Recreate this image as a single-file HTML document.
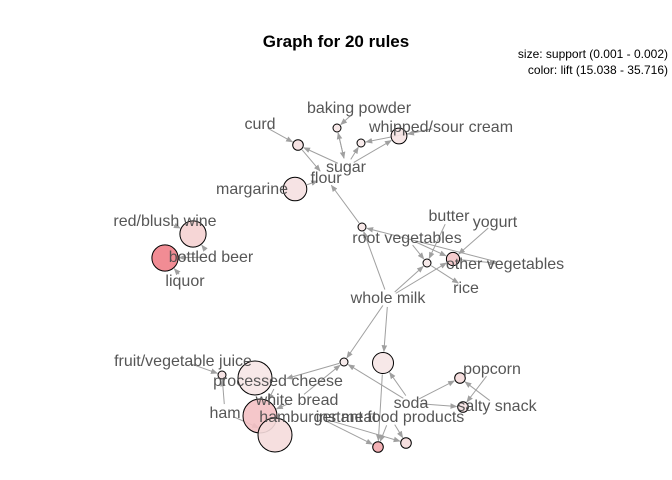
<!DOCTYPE html>
<html><head><meta charset="utf-8"><style>
body{margin:0;background:#fff;}
svg{display:block;font-family:"Liberation Sans",sans-serif;}
</style></head><body>
<svg id="chart" width="672" height="480">
<defs><marker id="ah" viewBox="0 0 10 10" refX="9" refY="5" markerWidth="7" markerHeight="7" orient="auto"><path d="M0,1 L10,5 L0,9 z" fill="#a0a0a0"/></marker></defs>
<text x="336" y="47" text-anchor="middle" font-size="17" font-weight="bold" fill="#000">Graph for 20 rules</text>
<text x="668" y="58" text-anchor="end" font-size="12" fill="#000">size: support (0.001 - 0.002)</text>
<text x="668" y="74" text-anchor="end" font-size="12" fill="#000">color: lift (15.038 - 35.716)</text>
<g id="edges"></g><g id="rules"></g><g id="labels"></g>
</svg>
<script>
const itemNames = ["curd","baking powder","whipped/sour cream","sugar","flour","margarine","butter","yogurt","root vegetables","other vegetables","rice","whole milk","red/blush wine","bottled beer","liquor","fruit/vegetable juice","processed cheese","white bread","ham","soda","hamburger meat","instant food products","popcorn","salty snack"];
const itemX = [260,359,441,346,326,252,449,495,407,505,466,388,165,211,185,183,278,297,225,411,318,390,492,497];
const itemY = [129,113,132,172,183,194,221,227,243,269,293,303,226,262,286,366,386,405,418,408,422,422,374,411];
const ruleX = [298,337,361,399,295,362,427,453,193,165,344,383,222,255,260,275,460,463,378,406];
const ruleY = [145,128,143,136,189,227,263,259,234,258,362,363,375,378,416,435,378,407,447,443];
const ruleSupport = [0.0011,0.001,0.001,0.0013,0.0016,0.001,0.001,0.0012,0.0017,0.0017,0.001,0.0015,0.001,0.002,0.002,0.002,0.0011,0.0011,0.0011,0.0011];
const ruleLift = [17,16,15.5,16.5,17,16,15.5,22,20,35.7,15.2,16,17,16,23,18,18,17,28,18];
const edgeFrom = ["i0","r0","i3","i3","r1","i1","i2","i3","i3","i2","r5","i11","r4","i9","i6","i8","i8","i7","i11","i11","r6","r7","i11","i11","r10","i17","i19","r11","i19","i15","i18","i19","i19","i22","i23","i20","i21","i21","i20","i12","i13","i14","i13","i16","i17","i18","i16"];
const edgeTo   = ["r0","i4","r0","r1","i3","r1","r2","r2","r3","r3","i4","r5","i4","r5","r6","r6","r7","r7","r6","r7","i10","i9","r10","r11","i16","r10","r10","r18","r11","r12","r12","r16","r17","r17","r16","r18","r18","r19","r19","r8","r9","r9","r8","r13","r14","r15","r14"];
const ns="http://www.w3.org/2000/svg";
const minS=0.001,maxS=0.002,minL=15.038,maxL=35.716;
function rScale(s){return 4+(s-minS)/(maxS-minS)*13;}
function colScale(l){const t=Math.max(0,Math.min(1,(l-minL)/(maxL-minL)));const a=[246,234,234],b=[240,128,136];return `rgb(${a.map((v,i)=>Math.round(v+(b[i]-v)*t)).join(',')})`;}
function pt(s){const k=+s.slice(1);return s[0]==='r'?{x:ruleX[k],y:ruleY[k],r:rScale(ruleSupport[k])}:{x:itemX[k],y:itemY[k]-5,r:8};}
const eg=document.getElementById('edges');
for(let i=0;i<edgeFrom.length;i++){
  const a=pt(edgeFrom[i]), b=pt(edgeTo[i]);
  const dx=b.x-a.x, dy=b.y-a.y, d=Math.hypot(dx,dy)||1;
  const sa=a.r+1, sb=b.r+1;
  const l=document.createElementNS(ns,'line');
  l.setAttribute('x1',a.x+dx/d*sa);l.setAttribute('y1',a.y+dy/d*sa);
  l.setAttribute('x2',b.x-dx/d*sb);l.setAttribute('y2',b.y-dy/d*sb);
  l.setAttribute('stroke','#a0a0a0');l.setAttribute('stroke-width','1');l.setAttribute('marker-end','url(#ah)');
  
  
  eg.appendChild(l);
}
const rg=document.getElementById('rules');
for(let i=0;i<ruleX.length;i++){
  const c=document.createElementNS(ns,'circle');
  c.setAttribute('cx',ruleX[i]);c.setAttribute('cy',ruleY[i]);c.setAttribute('r',rScale(ruleSupport[i]));
  c.setAttribute('fill',colScale(ruleLift[i]));c.setAttribute('fill-opacity','0.9');c.setAttribute('stroke','#000');c.setAttribute('stroke-width','1');
  
  
  rg.appendChild(c);
}
const lg=document.getElementById('labels');
for(let i=0;i<itemNames.length;i++){
  const t=document.createElementNS(ns,'text');
  t.setAttribute('x',itemX[i]);t.setAttribute('y',itemY[i]);t.setAttribute('text-anchor','middle');
  t.setAttribute('font-size','16');t.setAttribute('fill','#4d4d4d');t.setAttribute('fill-opacity','0.95');
  t.textContent=itemNames[i];
  
  
  lg.appendChild(t);
}
</script>
</body></html>
